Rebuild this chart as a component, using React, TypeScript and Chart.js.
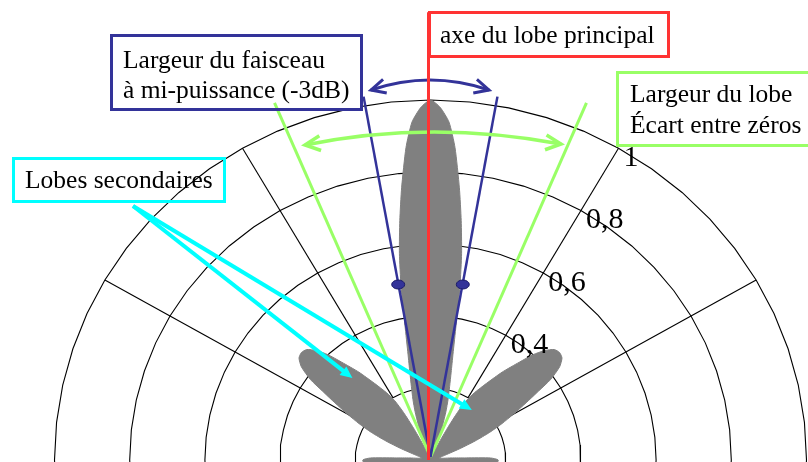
import React, { useEffect, useRef } from 'react';
import { Chart, registerables } from 'chart.js';

Chart.register(...registerables);

// Radiation pattern: angle from the main-lobe axis (degrees) and normalized field value
const patternAngles = [
  -95, -90, -88, -86.5, -84, -82, -78, -73, -70, -68, -66, -64, -62, -60, -58, -56.5, -55, -53, -51, -49,
  -47, -45, -43, -41, -38, -35, -32, -30, -28.5, -27, -25, -23.5, -22, -20, -18.5, -17, -15.5, -14, -12.7, -11.5,
  -10.3, -9.2, -8.2, -7, -5.8, -4.3, -3, -1.5, 0, 1.5, 3, 4.3, 5.8, 7, 8.2, 9.2, 10.3, 11.5, 12.7, 14,
  15.5, 17, 18.5, 20, 22, 23.5, 25, 27, 28.5, 30, 32, 35, 38, 41, 43, 45, 47, 49, 51, 53,
  55, 56.5, 58, 60, 62, 64, 66, 68, 70, 73, 78, 82, 84, 86.5, 88, 90, 95,
];
const patternValues = [
  0.175, 0.18, 0.16, 0.095, 0.055, 0.035, 0.025, 0.03, 0.05, 0.085, 0.13, 0.175, 0.215, 0.255, 0.3, 0.34, 0.39, 0.43, 0.45, 0.455,
  0.45, 0.43, 0.4, 0.36, 0.31, 0.26, 0.22, 0.19, 0.15, 0.1, 0.05, 0.02, 0.03, 0.06, 0.1, 0.14, 0.175, 0.21, 0.25, 0.3,
  0.38, 0.49, 0.58, 0.67, 0.76, 0.87, 0.94, 0.98, 1.0, 0.98, 0.94, 0.87, 0.76, 0.67, 0.58, 0.49, 0.38, 0.3, 0.25, 0.21,
  0.175, 0.14, 0.1, 0.06, 0.03, 0.02, 0.05, 0.1, 0.15, 0.19, 0.22, 0.26, 0.31, 0.36, 0.4, 0.43, 0.45, 0.455, 0.45, 0.43,
  0.39, 0.34, 0.3, 0.255, 0.215, 0.175, 0.13, 0.085, 0.05, 0.03, 0.025, 0.035, 0.055, 0.095, 0.16, 0.18, 0.175,
];

// Polar grid
const gridRadii = [0.2, 0.4, 0.6, 0.8, 1];
const spokeAngles = [-60, -30, 30, 60];
const tickLabels = ['0,4', '0,6', '0,8', '1'];
const tickValues = [0.4, 0.6, 0.8, 1];
const tickAngle = 30;

// Annotated directions
const mainAxisAngle = 0;
const halfPowerAngles = [-10, 10];
const halfPowerLevel = 0.495;
const nullAngles = [-22.7, 22.7];
const sideLobeTargets = [
  { angle: -42.4, value: 0.308 },
  { angle: 38.4, value: 0.177 },
];

const boxTexts = {
  beam: ['Largeur du faisceau', 'à mi-puissance (-3dB)'],
  axis: ['axe du lobe principal'],
  lobe: ['Largeur du lobe', 'Écart entre zéros'],
  side: ['Lobes secondaires'],
};

const RAD = Math.PI / 180;
const pol = (deg: number, r: number) => ({ x: r * Math.sin(deg * RAD), y: r * Math.cos(deg * RAD) });

const FONT = '"Liberation Serif", "Times New Roman", serif';
const BLUE = '#333399';
const RED = '#ff3333';
const GREEN = '#99ff66';
const CYAN = '#00ffff';

function arrowHead(ctx: CanvasRenderingContext2D, tx: number, ty: number, ang: number, len: number, spread: number) {
  ctx.beginPath();
  ctx.moveTo(tx - len * Math.cos(ang - spread), ty - len * Math.sin(ang - spread));
  ctx.lineTo(tx, ty);
  ctx.lineTo(tx - len * Math.cos(ang + spread), ty - len * Math.sin(ang + spread));
  ctx.stroke();
}

function filledHead(ctx: CanvasRenderingContext2D, tx: number, ty: number, ang: number, len: number, half: number) {
  ctx.beginPath();
  ctx.moveTo(tx, ty);
  ctx.lineTo(tx - len * Math.cos(ang) + half * Math.sin(ang), ty - len * Math.sin(ang) - half * Math.cos(ang));
  ctx.lineTo(tx - len * Math.cos(ang) - half * Math.sin(ang), ty - len * Math.sin(ang) + half * Math.cos(ang));
  ctx.closePath();
  ctx.fill();
}

const overlayPlugin = {
  id: 'overlay',
  afterDatasetsDraw(chart: any) {
    const ctx: CanvasRenderingContext2D = chart.ctx;
    const xs = chart.scales.x;
    const ys = chart.scales.y;
    const P = (deg: number, r: number) => {
      const p = pol(deg, r);
      return [xs.getPixelForValue(p.x), ys.getPixelForValue(p.y)];
    };
    const [cx, cy] = P(0, 0);
    ctx.save();
    ctx.lineCap = 'butt';
    ctx.lineJoin = 'miter';

    // blue box background
    ctx.fillStyle = '#ffffff';
    ctx.fillRect(111, 35, 251, 75);

    // tick labels
    ctx.fillStyle = '#000';
    ctx.font = `30px ${FONT}`;
    ctx.textAlign = 'left';
    ctx.textBaseline = 'middle';
    tickValues.forEach((v, i) => {
      const [x, y] = P(tickAngle, v);
      ctx.fillText(tickLabels[i], x + 5, y + 10);
    });

    // null lines (green)
    ctx.strokeStyle = GREEN;
    ctx.lineWidth = 3;
    nullAngles.forEach((a) => {
      const [x, y] = P(a, 1.075);
      ctx.beginPath();
      ctx.moveTo(cx, cy - 3);
      ctx.lineTo(x, y);
      ctx.stroke();
    });

    // half power lines (blue)
    ctx.strokeStyle = BLUE;
    ctx.lineWidth = 2.5;
    halfPowerAngles.forEach((a) => {
      const [x, y] = P(a, 1.025);
      ctx.beginPath();
      ctx.moveTo(cx, cy - 3);
      ctx.lineTo(x, y);
      ctx.stroke();
    });
    ctx.fillStyle = BLUE;
    halfPowerAngles.forEach((a) => {
      const [x, y] = P(a, halfPowerLevel);
      ctx.beginPath();
      ctx.ellipse(x, y, 6.5, 4.5, 0, 0, Math.PI * 2);
      ctx.fill();
      ctx.strokeStyle = '#1a1a66';
      ctx.lineWidth = 1;
      ctx.stroke();
    });

    // green curved double arrow
    ctx.strokeStyle = GREEN;
    ctx.lineWidth = 3.5;
    let p0 = [305, 145], c = [430, 119.5], p1 = [561, 144];
    ctx.beginPath();
    ctx.moveTo(p0[0], p0[1]);
    ctx.quadraticCurveTo(c[0], c[1], p1[0], p1[1]);
    ctx.stroke();
    arrowHead(ctx, p1[0], p1[1], Math.atan2(p1[1] - c[1], p1[0] - c[0]) - 0.08, 17, 0.45);
    arrowHead(ctx, p0[0], p0[1], Math.atan2(p0[1] - c[1], p0[0] - c[0]) + 0.08, 17, 0.45);

    // blue curved double arrow
    ctx.strokeStyle = BLUE;
    ctx.lineWidth = 3;
    p0 = [371, 90]; c = [430, 70]; p1 = [489, 90];
    ctx.beginPath();
    ctx.moveTo(p0[0], p0[1]);
    ctx.quadraticCurveTo(c[0], c[1], p1[0], p1[1]);
    ctx.stroke();
    arrowHead(ctx, p1[0], p1[1], Math.atan2(p1[1] - c[1], p1[0] - c[0]) - 0.06, 16, 0.45);
    arrowHead(ctx, p0[0], p0[1], Math.atan2(p0[1] - c[1], p0[0] - c[0]) + 0.06, 16, 0.45);

    // main axis (red)
    ctx.strokeStyle = RED;
    ctx.lineWidth = 3;
    const [ax, ay] = P(mainAxisAngle, 1.244);
    ctx.beginPath();
    ctx.moveTo(cx - 2, cy);
    ctx.lineTo(ax - 2, ay);
    ctx.stroke();

    // cyan pointers to the side lobes
    ctx.strokeStyle = CYAN;
    ctx.fillStyle = CYAN;
    ctx.lineWidth = 4;
    const start = [133, 206];
    sideLobeTargets.forEach((t) => {
      const [x, y] = P(t.angle, t.value);
      const ang = Math.atan2(y - start[1], x - start[0]);
      ctx.beginPath();
      ctx.moveTo(start[0], start[1]);
      ctx.lineTo(x - 8 * Math.cos(ang), y - 8 * Math.sin(ang));
      ctx.stroke();
      filledHead(ctx, x, y, ang, 12, 5.5);
    });

    // boxes
    ctx.lineWidth = 3;
    ctx.strokeStyle = BLUE;
    ctx.strokeRect(111.5, 35.5, 250, 74);
    ctx.strokeStyle = RED;
    ctx.strokeRect(429.5, 12.5, 239, 44);
    ctx.strokeStyle = GREEN;
    ctx.strokeRect(617.5, 72.5, 200, 73);
    ctx.strokeStyle = CYAN;
    ctx.strokeRect(13.5, 158.5, 211, 43);

    // box texts
    ctx.fillStyle = '#000';
    ctx.font = `25.5px ${FONT}`;
    ctx.textBaseline = 'alphabetic';
    ctx.textAlign = 'left';
    ctx.fillText(boxTexts.beam[0], 123, 68);
    ctx.fillText(boxTexts.beam[1], 123, 98);
    ctx.fillText(boxTexts.axis[0], 440, 43);
    ctx.fillText(boxTexts.lobe[0], 630, 102);
    ctx.fillText(boxTexts.lobe[1], 630, 133);
    ctx.fillText(boxTexts.side[0], 25, 188);

    ctx.restore();
  },
};

export default function App() {
  const canvasRef = useRef<HTMLCanvasElement | null>(null);

  useEffect(() => {
    const canvas = canvasRef.current;
    if (!canvas) return;

    const lobe = patternAngles.map((a, i) => pol(a, patternValues[i]));

    const circleSets = gridRadii.map((r) => {
      const pts = [];
      for (let a = -96; a <= 96; a += 6) pts.push(pol(a, r));
      return {
        data: pts,
        showLine: true,
        borderColor: '#000',
        borderWidth: 1.1,
        pointRadius: 0,
        fill: false,
        tension: 0,
        order: 2,
      };
    });

    const spokeSets = spokeAngles.map((a) => ({
      data: [pol(a, gridRadii[0]), pol(a, gridRadii[gridRadii.length - 1])],
      showLine: true,
      borderColor: '#000',
      borderWidth: 1.1,
      pointRadius: 0,
      fill: false,
      order: 2,
    }));

    const chart = new Chart(canvas, {
      type: 'scatter',
      data: {
        datasets: [
          {
            data: lobe,
            showLine: true,
            borderColor: '#808080',
            borderWidth: 1,
            backgroundColor: '#808080',
            pointRadius: 0,
            fill: 'shape',
            tension: 0.2,
            order: 1,
          } as any,
          ...circleSets,
          ...spokeSets,
        ],
      },
      options: {
        responsive: false,
        animation: false,
        maintainAspectRatio: false,
        layout: { padding: 0 },
        plugins: {
          legend: { display: false },
          tooltip: { enabled: false },
        },
        scales: {
          x: { type: 'linear', display: false, min: -430.5 / 376, max: (808 - 430.5) / 376 },
          y: { type: 'linear', display: false, min: (460 - 462) / 360, max: 460 / 360 },
        },
      },
      plugins: [overlayPlugin],
    });

    return () => chart.destroy();
  }, []);

  return (
    <div style={{ position: 'absolute', left: 0, top: 0, width: 808, height: 462, background: '#fff', overflow: 'hidden' }}>
      <canvas ref={canvasRef} width={808} height={462} style={{ display: 'block', width: 808, height: 462 }} />
    </div>
  );
}
